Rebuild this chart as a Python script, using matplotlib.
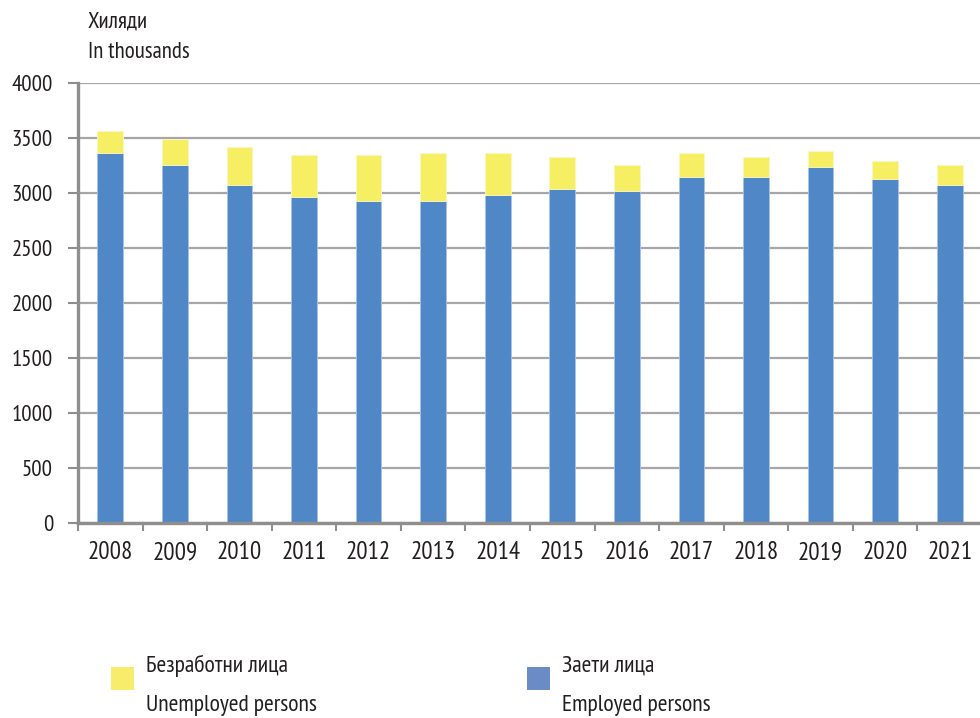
import matplotlib
matplotlib.use('Agg')
import matplotlib.pyplot as plt
from matplotlib.patches import Rectangle
import numpy as np

plt.rcParams['font.family'] = ['PT Sans Narrow', 'DejaVu Sans']

years = ['2008', '2009', '2010', '2011', '2012', '2013', '2014',
         '2015', '2016', '2017', '2018', '2019', '2020', '2021']
employed = [3366, 3257, 3073, 2964, 2930, 2930, 2985,
            3039, 3021, 3148, 3148, 3239, 3130, 3076]
unemployed = [200, 237, 348, 384, 418, 436, 381,
              291, 236, 218, 182, 146, 164, 181]

labels_bg = ['Безработни лица', 'Заети лица']
labels_en = ['Unemployed persons', 'Employed persons']

col_emp = '#5087c7'
col_unemp = '#f6ef63'
leg_emp = '#6a8bc6'
leg_unemp = '#f8ec6c'
txt = '#231f20'
axis_grey = '#8e8e8e'
grid_grey = '#a6a6a6'

fig = plt.figure(figsize=(9.8, 7.18), dpi=100)
ax = fig.add_axes([78 / 980, 195 / 718, 904 / 980, 440 / 718])

x = np.arange(len(years))
ax.bar(x, employed, width=0.4, color=col_emp, edgecolor='#a8c3e8', linewidth=0.6, zorder=3)
ax.bar(x, unemployed, width=0.4, bottom=employed, color=col_unemp,
       edgecolor='#fbf7c0', linewidth=0.6, zorder=3)

ax.set_xlim(-0.5, len(years) - 0.5)
ax.set_ylim(0, 4000)
ax.set_yticks(np.arange(0, 4001, 500))
ax.yaxis.grid(True, color=grid_grey, linewidth=1.6, zorder=0)
ax.set_axisbelow(True)

ax.set_xticks(x)
ax.set_xticklabels(years, fontsize=18, color=txt)
ax.set_xticks(np.arange(-0.5, len(years)), minor=True)
ax.tick_params(axis='x', which='major', length=0, pad=13)
ax.tick_params(axis='x', which='minor', length=6, width=1.5, color=axis_grey, direction='out')
ax.tick_params(axis='y', length=7, width=1.5, color=axis_grey, direction='out',
               labelsize=16.5, labelcolor=txt, pad=11)

for s in ['top', 'right']:
    ax.spines[s].set_visible(False)
for s in ['left', 'bottom']:
    ax.spines[s].set_color(axis_grey)
    ax.spines[s].set_linewidth(2.4)
    ax.spines[s].set_zorder(4)

fig.text(88 / 980, 1 - 22 / 718, 'Хиляди', fontsize=16.5, color=txt, va='center', ha='left')
fig.text(88 / 980, 1 - 52 / 718, 'In thousands', fontsize=16.5, color=txt, va='center', ha='left')

# legend drawn by hand: square + two text lines per series
for (sx, colr), bg, en in zip([(111, leg_unemp), (527, leg_emp)], labels_bg, labels_en):
    fig.add_artist(Rectangle((sx / 980, 1 - 690 / 718), 23 / 980, 23 / 718,
                             transform=fig.transFigure, facecolor=colr, edgecolor='none'))
    fig.text((sx + 35) / 980, 1 - 666 / 718, bg, fontsize=17, color=txt, va='center', ha='left')
    fig.text((sx + 35) / 980, 1 - 705 / 718, en, fontsize=17, color=txt, va='center', ha='left')

fig.savefig('out.png', dpi=100)
